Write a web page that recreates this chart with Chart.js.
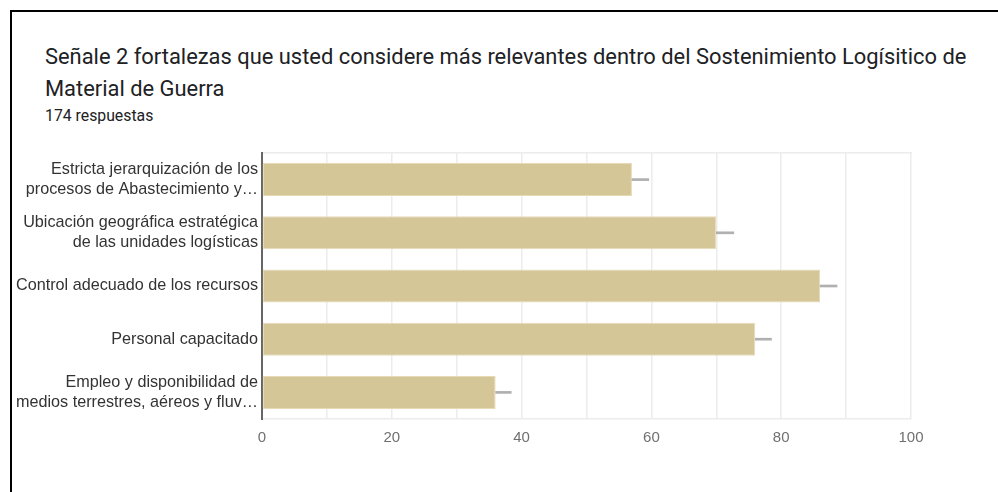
<!DOCTYPE html>
<html>
<head>
<meta charset="utf-8">
<script src="https://cdn.jsdelivr.net/npm/chart.js@4"></script>
<style>
  html, body { margin:0; padding:0; background:#fff; }
  body { width:998px; height:492px; position:relative; overflow:hidden; }
  #frameTop { position:absolute; left:10px; top:10px; width:988px; height:2px; background:#000; }
  #frameLeft { position:absolute; left:10px; top:10px; width:2px; height:482px; background:#000; }
  #title { position:absolute; left:45px; top:41px; font-family:Roboto, sans-serif; font-size:21.9px; line-height:32px; color:#202124; white-space:nowrap; }
  #sub { position:absolute; left:45px; top:106px; font-family:Roboto, sans-serif; font-size:15.8px; line-height:20px; color:#202124; }
  #wrap { position:absolute; left:0; top:140px; width:998px; height:330px; }
</style>
</head>
<body>
<div id="frameTop"></div>
<div id="frameLeft"></div>
<div id="title">Señale 2 fortalezas que usted considere más relevantes dentro del Sostenimiento Logísitico de<br>Material de Guerra</div>
<div id="sub">174 respuestas</div>
<div id="wrap"><canvas id="c"></canvas></div>
<script>
const categories = [
  ["Estricta jerarquización de los", "procesos de Abastecimiento y…"],
  ["Ubicación geográfica estratégica", "de las unidades logísticas"],
  "Control adecuado de los recursos",
  "Personal capacitado",
  ["Empleo y disponibilidad de", "medios terrestres, aéreos y fluv…"]
];
const values = [57, 70, 86, 76, 36];
const whiskerEnds = [59.6, 72.7, 88.6, 78.5, 38.4];
const xTickLabels = [0, 20, 40, 60, 80, 100];

const whiskerData = values.map((v, i) => [v, whiskerEnds[i]]);

new Chart(document.getElementById('c'), {
  type: 'bar',
  data: {
    labels: categories,
    datasets: [
      {
        data: values,
        backgroundColor: '#d5c698',
        borderColor: '#e6dab6',
        borderWidth: 1,
        borderSkipped: false,
        categoryPercentage: 1,
        barPercentage: 0.62,
        grouped: false,
        order: 2
      },
      {
        data: whiskerData,
        backgroundColor: '#b0b0b0',
        borderWidth: 0,
        barThickness: 2,
        grouped: false,
        order: 1
      }
    ]
  },
  options: {
    indexAxis: 'y',
    responsive: true,
    maintainAspectRatio: false,
    animation: false,
    events: [],
    layout: { padding: { top: 13, right: 87, bottom: 0, left: 0 } },
    plugins: { legend: { display: false }, tooltip: { enabled: false }, title: { display: false } },
    scales: {
      x: {
        min: 0, max: 100,
        ticks: {
          stepSize: 10,
          autoSkip: false,
          maxRotation: 0,
          padding: 10,
          color: '#707070',
          font: { family: '"Liberation Sans", Arial, sans-serif', size: 15 },
          callback: (v) => xTickLabels.includes(v) ? String(v) : ''
        },
        grid: { color: '#ececec', lineWidth: 1.5, drawTicks: false },
        border: { display: true, color: '#ececec', width: 1.5 },
        afterFit: (s) => { s.height = 51; s.paddingLeft = 0; s.paddingRight = 0; }
      },
      xTop: {
        axis: 'x',
        position: 'top',
        min: 0, max: 100,
        ticks: { display: false },
        grid: { display: false, drawTicks: false },
        border: { display: true, color: '#ececec', width: 1.5 },
        afterFit: (s) => { s.height = 0; }
      },
      y: {
        ticks: {
          padding: 4,
          autoSkip: false,
          color: '#333333',
          font: { family: '"Liberation Sans", Arial, sans-serif', size: 16.2, lineHeight: 1.24 }
        },
        grid: { display: false, drawTicks: false },
        border: { display: true, color: '#666666', width: 2 },
        afterFit: (s) => { s.width = 262; s.paddingTop = 0; s.paddingBottom = 0; }
      }
    }
  }
});
</script>
</body>
</html>
